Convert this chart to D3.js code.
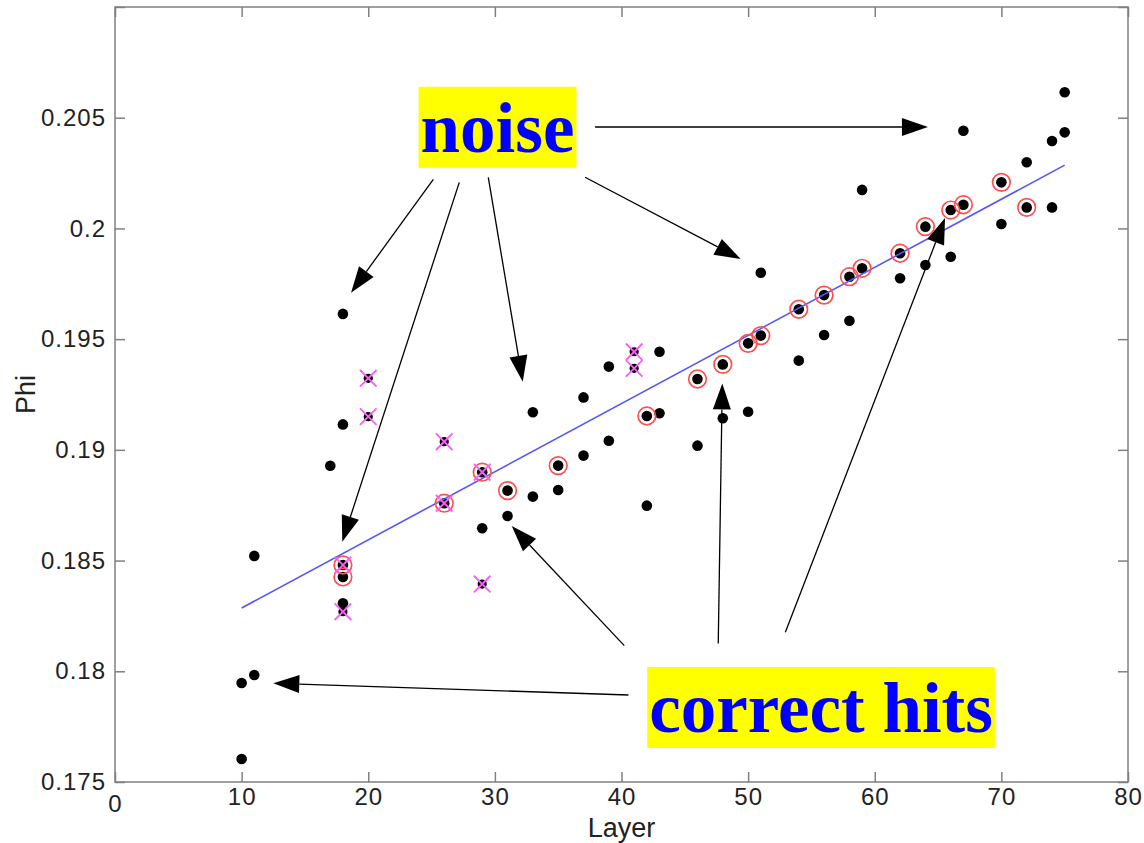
<!DOCTYPE html>
<html>
<head>
<meta charset="utf-8">
<script src="https://cdn.jsdelivr.net/npm/d3@7/dist/d3.min.js"></script>
<style>
body { margin: 0; background: #fff; }
</style>
</head>
<body>
<script>
// plain black hits (noise)
var dotLayer = [10, 10, 11, 11, 17, 18, 18, 18, 29, 31, 33, 33, 35, 37, 37, 39, 39, 42, 43, 43,
                46, 48, 50, 51, 54, 56, 58, 59, 62, 64, 66, 67, 70, 72, 74, 74, 75, 75];
var dotPhi = [0.17947, 0.17604, 0.17983, 0.18521, 0.18928, 0.19614, 0.19115, 0.18307, 0.18646, 0.18701,
              0.19170, 0.18789, 0.18819, 0.19237, 0.18974, 0.19376, 0.19041, 0.18748, 0.19443, 0.19165,
              0.19019, 0.19143, 0.19172, 0.19800, 0.19403, 0.19519, 0.19583, 0.20174, 0.19775, 0.19835,
              0.19872, 0.20441, 0.20020, 0.20299, 0.20395, 0.20095, 0.20615, 0.20434];

// correct hits (red rings)
var hitLayer = [18, 18, 26, 29, 31, 35, 42, 46, 48, 50, 51, 54, 56, 58, 59, 62, 64, 66, 67, 70, 72];
var hitPhi = [0.18480, 0.18426, 0.18759, 0.18899, 0.18816, 0.18929, 0.19153, 0.19320, 0.19386, 0.19481,
              0.19516, 0.19635, 0.19699, 0.19782, 0.19820, 0.19888, 0.20008, 0.20083, 0.20107, 0.20208, 0.20095];

// magenta crosses
var crossLayer = [18, 18, 20, 20, 26, 26, 29, 29, 41, 41];
var crossPhi = [0.18480, 0.18269, 0.19323, 0.19150, 0.19037, 0.18759, 0.18899, 0.18394, 0.19443, 0.19368];

// fitted line
var fitLayer = [10, 75];
var fitPhi = [0.18286, 0.20286];

var xTicks = [0, 10, 20, 30, 40, 50, 60, 70, 80];
var yTicks = [0.175, 0.18, 0.185, 0.19, 0.195, 0.2, 0.205, 0.21];
var yTickLabels = ["0.175", "0.18", "0.185", "0.19", "0.195", "0.2", "0.205", ""];

// annotations
var noteText = ["noise", "correct hits"];
var noteLayer = [30.21, 55.76];
var notePhi = [0.20346, 0.17726];

// arrows: from [layer, phi] -> to [layer, phi]
var arrowFrom = [[37.91, 0.20458], [25.14, 0.20222], [27.19, 0.20208], [29.48, 0.20231], [37.12, 0.20231],
                 [40.22, 0.18116], [47.64, 0.18126], [52.94, 0.18176], [40.55, 0.17893]];
var arrowTo = [[64.20, 0.20458], [18.64, 0.19710], [17.95, 0.18585], [32.20, 0.19308], [49.41, 0.19862],
               [31.33, 0.18656], [47.96, 0.19300], [65.55, 0.20047], [12.50, 0.17946]];

var svgWidth = 1144;
var svgHeight = 843;
var margin = {top: 7, right: 16, bottom: 61, left: 115};

var svg = d3.select("body")
        .append("svg")
        .attr("width", svgWidth)
        .attr("height", svgHeight)
        .style("font-family", "'Liberation Sans', Arial, sans-serif");

var xScale = d3.scaleLinear()
        .domain([0, 80])
        .range([margin.left, svgWidth - margin.right]);

var yScale = d3.scaleLinear()
        .domain([0.175, 0.21])
        .range([svgHeight - margin.bottom, margin.top]);

var axisColor = "#808080";

function styleAxis(g) {
    g.select(".domain").remove();
    g.selectAll(".tick line").attr("stroke", axisColor).attr("stroke-width", 1.5);
    g.selectAll(".tick text")
            .attr("fill", "#222")
            .style("font-size", "24px")
            .style("letter-spacing", "1px");
}

// bottom axis
svg.append("g")
        .attr("transform", "translate(0," + yScale(0.175) + ")")
        .call(d3.axisBottom(xScale).tickValues(xTicks).tickSize(-10).tickPadding(6))
        .call(styleAxis)
        .selectAll(".tick text")
        .attr("dy", function (d) { return d === 0 ? "1.0em" : "0.71em"; });

// left axis
svg.append("g")
        .attr("transform", "translate(" + xScale(0) + ",0)")
        .call(d3.axisLeft(yScale).tickValues(yTicks).tickSize(-10).tickPadding(9)
                .tickFormat(function (d, i) { return yTickLabels[i]; }))
        .call(styleAxis);

// top and right ticks
svg.append("g")
        .attr("transform", "translate(0," + yScale(0.21) + ")")
        .call(d3.axisTop(xScale).tickValues(xTicks).tickSize(-10).tickFormat(""))
        .call(styleAxis);

svg.append("g")
        .attr("transform", "translate(" + xScale(80) + ",0)")
        .call(d3.axisRight(yScale).tickValues(yTicks).tickSize(-10).tickFormat(""))
        .call(styleAxis);

// box
svg.append("rect")
        .attr("x", xScale(0))
        .attr("y", yScale(0.21))
        .attr("width", xScale(80) - xScale(0))
        .attr("height", yScale(0.175) - yScale(0.21))
        .attr("fill", "none")
        .attr("stroke", axisColor)
        .attr("stroke-width", 1.5);

// axis labels
svg.append("text")
        .attr("x", (xScale(0) + xScale(80)) / 2)
        .attr("y", 837)
        .attr("text-anchor", "middle")
        .attr("fill", "#222")
        .style("font-size", "27px")
        .text("Layer");

svg.append("text")
        .attr("transform", "translate(35," + (yScale(0.175) + yScale(0.21)) / 2 + ") rotate(-90)")
        .attr("text-anchor", "middle")
        .attr("fill", "#222")
        .style("font-size", "27px")
        .text("Phi");

// black dots
var dots = d3.range(dotLayer.length).map(function (i) { return [dotLayer[i], dotPhi[i]]; })
        .concat(d3.range(hitLayer.length).map(function (i) { return [hitLayer[i], hitPhi[i]]; }));

svg.append("g").selectAll("circle")
        .data(dots)
        .enter()
        .append("circle")
        .attr("cx", function (d) { return xScale(d[0]); })
        .attr("cy", function (d) { return yScale(d[1]); })
        .attr("r", 5.3)
        .attr("fill", "#000");

var crosses = d3.range(crossLayer.length).map(function (i) { return [crossLayer[i], crossPhi[i]]; });

svg.append("g").selectAll("circle")
        .data(crosses)
        .enter()
        .append("circle")
        .attr("cx", function (d) { return xScale(d[0]); })
        .attr("cy", function (d) { return yScale(d[1]); })
        .attr("r", 4.6)
        .attr("fill", "#000");

// fit line
var fit = fitLayer.map(function (d, i) { return [d, fitPhi[i]]; });
svg.append("path")
        .datum(fit)
        .attr("d", d3.line()
                .x(function (d) { return xScale(d[0]); })
                .y(function (d) { return yScale(d[1]); }))
        .attr("fill", "none")
        .attr("stroke", "#5555ff")
        .attr("stroke-width", 1.6);

// red rings
svg.append("g").selectAll("circle")
        .data(hitLayer)
        .enter()
        .append("circle")
        .attr("cx", function (d) { return xScale(d); })
        .attr("cy", function (d, i) { return yScale(hitPhi[i]); })
        .attr("r", 8.8)
        .attr("fill", "none")
        .attr("stroke", "#ff5050")
        .attr("stroke-width", 1.7);

// magenta crosses
var c = 8.3;
svg.append("g").selectAll("path")
        .data(crosses)
        .enter()
        .append("path")
        .attr("d", function (d) {
            var px = xScale(d[0]), py = yScale(d[1]);
            return "M" + (px - c) + "," + (py - c) + "L" + (px + c) + "," + (py + c) +
                   "M" + (px - c) + "," + (py + c) + "L" + (px + c) + "," + (py - c);
        })
        .attr("fill", "none")
        .attr("stroke", "#ff5cff")
        .attr("stroke-width", 1.9);

// arrows
var headLen = 26, headWid = 18;
var arrows = svg.append("g");
arrowFrom.forEach(function (f, i) {
    var t = arrowTo[i];
    var x1 = xScale(f[0]), y1 = yScale(f[1]);
    var x2 = xScale(t[0]), y2 = yScale(t[1]);
    var len = Math.sqrt((x2 - x1) * (x2 - x1) + (y2 - y1) * (y2 - y1));
    var ux = (x2 - x1) / len, uy = (y2 - y1) / len;
    var bx = x2 - ux * headLen, by = y2 - uy * headLen;
    arrows.append("line")
            .attr("x1", x1).attr("y1", y1)
            .attr("x2", bx).attr("y2", by)
            .attr("stroke", "#000")
            .attr("stroke-width", 1.3);
    arrows.append("path")
            .attr("d", "M" + x2 + "," + y2 +
                    "L" + (bx - uy * headWid / 2) + "," + (by + ux * headWid / 2) +
                    "L" + (bx + uy * headWid / 2) + "," + (by - ux * headWid / 2) + "Z")
            .attr("fill", "#000");
});

// yellow labels
noteText.forEach(function (s, i) {
    var g = svg.append("g");
    var txt = g.append("text")
            .attr("x", xScale(noteLayer[i]))
            .attr("y", yScale(notePhi[i]))
            .attr("text-anchor", "middle")
            .attr("fill", "#0000ff")
            .style("font-family", "'Liberation Serif', 'Times New Roman', serif")
            .style("font-weight", "bold")
            .style("font-size", "71px")
            .text(s);
    var bb = txt.node().getBBox();
    g.insert("rect", "text")
            .attr("x", bb.x - 2)
            .attr("y", bb.y - 2)
            .attr("width", bb.width + 4)
            .attr("height", bb.height + 3)
            .attr("fill", "#ffff00");
});
</script>
</body>
</html>
